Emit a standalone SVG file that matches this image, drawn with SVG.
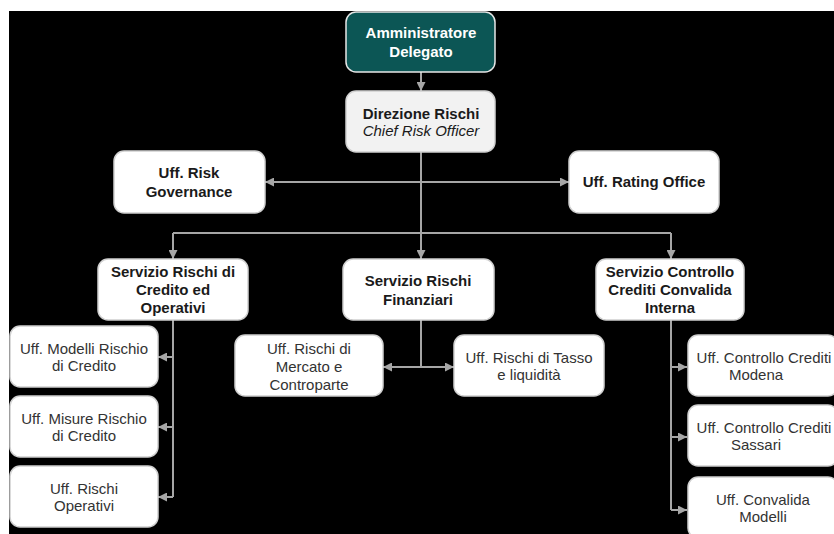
<svg xmlns="http://www.w3.org/2000/svg" width="834" height="534" viewBox="0 0 834 534">
<defs>
<marker id="ah" viewBox="0 0 10 10" refX="10" refY="5" markerWidth="9" markerHeight="9" markerUnits="userSpaceOnUse" orient="auto-start-reverse">
<path d="M0,0 L10,5 L0,10 z" fill="#a6a6a6"/>
</marker>
<style>
.box{fill:#ffffff;stroke:#d0d0d0;stroke-width:1.5}
.top{fill:#0c5655;stroke:#e6e6e6;stroke-width:1.5}
.dir{fill:#f2f2f2;stroke:#d0d0d0;stroke-width:1.5}
.b{font-family:"Liberation Sans",Arial,sans-serif;font-weight:bold;font-size:15px;fill:#1a1a1a;text-anchor:middle}
.r{font-family:"Liberation Sans",Arial,sans-serif;font-size:15px;fill:#333333;text-anchor:middle}
.w{fill:#ffffff}
.i{font-style:italic;font-weight:normal}
.c{fill:none;stroke:#a6a6a6;stroke-width:2}
.a{marker-end:url(#ah)}
.s{marker-start:url(#ah)}
</style>
</defs>
<rect x="0" y="0" width="834" height="534" fill="#ffffff"/>
<rect x="9" y="11" width="825" height="523" fill="#000000"/>

<g id="connectors">
<path class="c a" d="M421,72 V91"/>
<path class="c" d="M421,152 V233"/>
<path class="c s a" d="M265,182 H569"/>
<path class="c" d="M173,233 H671"/>
<path class="c a" d="M173,233 V259"/>
<path class="c a" d="M421,233 V259"/>
<path class="c a" d="M671,233 V259"/>
<path class="c" d="M173,320 V497"/>
<path class="c a" d="M173,357 H158"/>
<path class="c a" d="M173,427 H158"/>
<path class="c a" d="M173,497 H158"/>
<path class="c" d="M421,320 V367"/>
<path class="c s a" d="M383,367 H454"/>
<path class="c" d="M671,320 V510"/>
<path class="c a" d="M671,367 H687"/>
<path class="c a" d="M671,437 H687"/>
<path class="c a" d="M671,510 H687"/>
</g>

<g id="amministratore">
<rect class="top" x="346" y="12" width="149" height="60" rx="10"/>
<text class="b w" x="421" y="38">Amministratore</text>
<text class="b w" x="421" y="57">Delegato</text>
</g>

<g id="direzione">
<rect class="dir" x="346" y="91" width="149" height="61" rx="10"/>
<text class="b" x="421" y="119">Direzione Rischi</text>
<text class="b i" x="421" y="136">Chief Risk Officer</text>
</g>

<g id="risk-governance">
<rect class="box" x="114" y="151" width="151" height="62" rx="10"/>
<text class="b" x="189" y="178">Uff. Risk</text>
<text class="b" x="189" y="197">Governance</text>
</g>

<g id="rating-office">
<rect class="box" x="569" y="151" width="150" height="62" rx="10"/>
<text class="b" x="644" y="187">Uff. Rating Office</text>
</g>

<g id="servizio-credito">
<rect class="box" x="98" y="259" width="150" height="61" rx="10"/>
<text class="b" x="173" y="277">Servizio Rischi di</text>
<text class="b" x="173" y="295">Credito ed</text>
<text class="b" x="173" y="313">Operativi</text>
</g>

<g id="servizio-finanziari">
<rect class="box" x="343" y="259" width="151" height="61" rx="10"/>
<text class="b" x="418" y="286">Servizio Rischi</text>
<text class="b" x="418" y="305">Finanziari</text>
</g>

<g id="servizio-controllo">
<rect class="box" x="596" y="259" width="148" height="61" rx="10"/>
<text class="b" x="670" y="277">Servizio Controllo</text>
<text class="b" x="670" y="295">Crediti Convalida</text>
<text class="b" x="670" y="313">Interna</text>
</g>

<g id="modelli-rischio">
<rect class="box" x="10" y="326" width="148" height="61" rx="10"/>
<text class="r" x="84" y="354">Uff. Modelli Rischio</text>
<text class="r" x="84" y="371">di Credito</text>
</g>

<g id="misure-rischio">
<rect class="box" x="10" y="396" width="148" height="61" rx="10"/>
<text class="r" x="84" y="424">Uff. Misure Rischio</text>
<text class="r" x="84" y="441">di Credito</text>
</g>

<g id="rischi-operativi">
<rect class="box" x="10" y="466" width="148" height="61" rx="10"/>
<text class="r" x="84" y="494">Uff. Rischi</text>
<text class="r" x="84" y="511">Operativi</text>
</g>

<g id="rischi-mercato">
<rect class="box" x="235" y="335" width="148" height="61" rx="10"/>
<text class="r" x="309" y="354">Uff. Rischi di</text>
<text class="r" x="309" y="372">Mercato e</text>
<text class="r" x="309" y="390">Controparte</text>
</g>

<g id="rischi-tasso">
<rect class="box" x="454" y="335" width="150" height="61" rx="10"/>
<text class="r" x="529" y="363">Uff. Rischi di Tasso</text>
<text class="r" x="529" y="380">e liquidità</text>
</g>

<g id="controllo-modena">
<rect class="box" x="688" y="335" width="150" height="61" rx="10"/>
<text class="r" x="764" y="363">Uff. Controllo Crediti</text>
<text class="r" x="756" y="380">Modena</text>
</g>

<g id="controllo-sassari">
<rect class="box" x="688" y="405" width="150" height="61" rx="10"/>
<text class="r" x="764" y="433">Uff. Controllo Crediti</text>
<text class="r" x="756" y="450">Sassari</text>
</g>

<g id="convalida-modelli">
<rect class="box" x="688" y="477" width="150" height="61" rx="10"/>
<text class="r" x="763" y="505">Uff. Convalida</text>
<text class="r" x="763" y="522">Modelli</text>
</g>
</svg>
